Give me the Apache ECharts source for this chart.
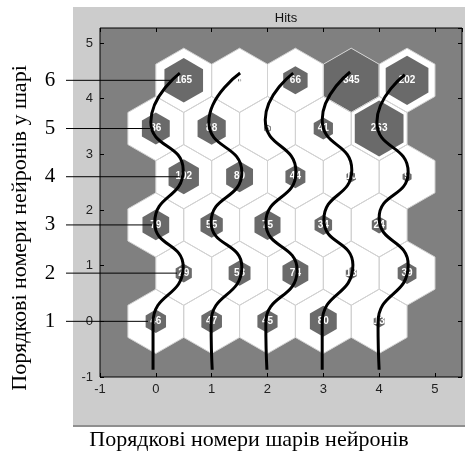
<!DOCTYPE html>
<html>
<head>
<meta charset="utf-8">
<script src="https://cdn.jsdelivr.net/npm/echarts@6/dist/echarts.min.js"></script>
<style>
  html, body { margin: 0; padding: 0; background: #ffffff; }
  #chart { width: 465px; height: 453px; }
</style>
</head>
<body>
<div id="chart"></div>
<script>
// Hit counts per neuron, one array per lattice row (row 0 at the bottom), left to right
const hitsRow0 = [46, 47, 45, 80, 13];
const hitsRow1 = [29, 53, 74, 13, 39];
const hitsRow2 = [79, 55, 75, 34, 24];
const hitsRow3 = [102, 80, 44, 10, 9];
const hitsRow4 = [86, 88, 5, 41, 263];
const hitsRow5 = [165, 1, 66, 345, 202];
const hitRows = [hitsRow0, hitsRow1, hitsRow2, hitsRow3, hitsRow4, hitsRow5];

// Axis ranges and tick step
const xRange = [-1, 5.484];
const yRange = [-1, 5.27];
const tickStep = 1;

// Wavy trace through each layer of neurons, [x, y] in axis units, top to bottom
const layerCurve1 = [[0.43, 4.46], [-0.09, 3.58], [0.49, 2.72], [-0.02, 1.77], [0.49, 0.98], [-0.05, -0.03], [-0.05, -0.87]];
const layerCurve2 = [[1.51, 4.46], [0.95, 3.58], [1.54, 2.68], [0.99, 1.78], [1.54, 0.98], [0.99, -0.03], [1.01, -0.87]];
const layerCurve3 = [[2.46, 4.46], [1.96, 3.62], [2.51, 2.68], [1.97, 1.77], [2.53, 0.92], [1.97, -0.03], [1.99, -0.87]];
const layerCurve4 = [[3.48, 4.48], [2.98, 3.62], [3.51, 2.72], [3.01, 1.82], [3.53, 1.01], [2.98, -0.03], [2.98, -0.87]];
const layerCurve5 = [[4.46, 4.43], [3.96, 3.58], [4.52, 2.68], [4.00, 1.86], [4.52, 1.01], [3.98, -0.03], [4.00, -0.87]];
const layerCurves = [layerCurve1, layerCurve2, layerCurve3, layerCurve4, layerCurve5];

// Neuron number within a layer (one per lattice row) and where its leader line ends
const rowLabels = ['1', '2', '3', '4', '5', '6'];
const rowLeaderEnds = [-0.14, 0.38, -0.07, 0.43, -0.10, 0.29];

// Titles
const chartTitle = 'Hits';
const xTitle = 'Порядкові номери шарів нейронів';
const yTitle = 'Порядкові номери нейронів у шарі';

// Hexagonal lattice: odd rows are shifted half a cell to the right
const ROW_STEP = Math.sqrt(3) / 2;
const HEX_R = 1 / Math.sqrt(3);
const maxHits = Math.max(...hitRows.flat());

const cells = [];
hitRows.forEach((row, r) => {
  row.forEach((h, c) => {
    cells.push([c + 0.5 * (r % 2), r * ROW_STEP, h]);
  });
});

function hexPoints(api, cx, cy, scale) {
  const pts = [];
  for (let k = 0; k < 6; k++) {
    const a = Math.PI / 2 + k * Math.PI / 3;
    pts.push(api.coord([cx + scale * HEX_R * Math.cos(a), cy + scale * HEX_R * Math.sin(a)]));
  }
  return pts;
}

const SERIF = '"Liberation Serif", "DejaVu Serif", serif';
const SANS = '"Liberation Sans", Arial, sans-serif';

const chart = echarts.init(document.getElementById('chart'), null, { renderer: 'canvas' });

function makeAxis(range, position, withLabels, margin) {
  return {
    type: 'value',
    min: range[0], max: range[1], interval: tickStep,
    position: position,
    splitLine: { show: false },
    axisLine: { show: false, onZero: false },
    axisTick: { show: true, inside: true, length: 4, lineStyle: { color: '#000', width: 1 } },
    axisLabel: {
      show: withLabels, showMaxLabel: false, showMinLabel: true, margin: margin,
      fontFamily: SANS, fontSize: 13, color: '#222'
    }
  };
}

const option = {
  animation: false,
  backgroundColor: '#ffffff',
  title: {
    text: chartTitle,
    left: 281,
    top: 7,
    textAlign: 'center',
    textStyle: { fontFamily: SANS, fontSize: 13, fontWeight: 'normal', color: '#111' }
  },
  graphic: [
    { type: 'rect', z: -10, silent: true, shape: { x: 73, y: 7, width: 392, height: 419 }, style: { fill: '#cccccc' } },
    { type: 'rect', z: -10, silent: true, shape: { x: 73, y: 425, width: 392, height: 2 }, style: { fill: '#8f8f8f' } },
    {
      type: 'text', silent: true, x: 20, y: 228, rotation: Math.PI / 2,
      style: { text: yTitle, font: '22px ' + SERIF, fill: '#000', align: 'center', verticalAlign: 'middle' }
    },
    {
      type: 'text', silent: true, x: 249, y: 440,
      style: { text: xTitle, font: '22px ' + SERIF, fill: '#000', align: 'center', verticalAlign: 'middle' }
    }
  ],
  grid: {
    left: 100, top: 28, width: 362, height: 349,
    show: true, backgroundColor: '#808080', borderColor: '#000', borderWidth: 1
  },
  xAxis: [
    makeAxis(xRange, 'bottom', true, 6),
    makeAxis(xRange, 'top', false, 6)
  ],
  yAxis: [
    makeAxis(yRange, 'left', true, 7),
    makeAxis(yRange, 'right', false, 7)
  ],
  series: [
    {
      // white neuron cells
      type: 'custom', name: 'cells', z: 1, silent: true,
      data: cells,
      renderItem: (params, api) => ({
        type: 'polygon',
        shape: { points: hexPoints(api, api.value(0), api.value(1), 1) },
        style: { fill: '#ffffff', stroke: null }
      })
    },
    {
      // hit hexagons, area proportional to hits
      type: 'custom', name: 'hits', z: 2, silent: true,
      data: cells,
      renderItem: (params, api) => {
        const s = Math.sqrt(api.value(2) / maxHits);
        return {
          type: 'polygon',
          shape: { points: hexPoints(api, api.value(0), api.value(1), s) },
          style: { fill: '#6a6a6a', stroke: null }
        };
      }
    },
    {
      // cell outlines
      type: 'custom', name: 'outlines', z: 3, silent: true,
      data: cells,
      renderItem: (params, api) => ({
        type: 'polygon',
        shape: { points: hexPoints(api, api.value(0), api.value(1), 1) },
        style: { fill: null, stroke: '#d2d2d2', lineWidth: 1 }
      })
    },
    {
      // hit counts
      type: 'custom', name: 'counts', z: 4, silent: true,
      data: cells,
      renderItem: (params, api) => {
        const p = api.coord([api.value(0), api.value(1)]);
        return {
          type: 'text',
          style: {
            text: String(api.value(2)), x: p[0], y: p[1],
            font: 'bold 10px ' + SANS, fill: '#ffffff', align: 'center', verticalAlign: 'middle'
          }
        };
      }
    },
    ...layerCurves.map((curve, i) => ({
      type: 'line', name: 'layer ' + (i + 1), z: 6, silent: true,
      data: curve, symbol: 'none', smooth: 0.55, smoothMonotone: 'y',
      lineStyle: { color: '#000', width: 3 }
    })),
    {
      // row numbers with leader lines to the traces
      type: 'custom', name: 'rows', z: 7, silent: true, clip: false,
      data: rowLeaderEnds.map((x, r) => [x, r * ROW_STEP, r]),
      renderItem: (params, api) => {
        const end = api.coord([api.value(0), api.value(1)]);
        const edge = api.coord([xRange[0], api.value(1)]);
        return {
          type: 'group',
          children: [
            { type: 'line', shape: { x1: edge[0] - 34, y1: end[1], x2: end[0], y2: end[1] },
              style: { stroke: '#000', lineWidth: 1 } },
            { type: 'text', style: { text: rowLabels[api.value(2)], x: edge[0] - 50, y: end[1],
              font: '21px ' + SERIF, fill: '#000', align: 'center', verticalAlign: 'middle' } }
          ]
        };
      }
    }
  ]
};

chart.setOption(option);
</script>
</body>
</html>
